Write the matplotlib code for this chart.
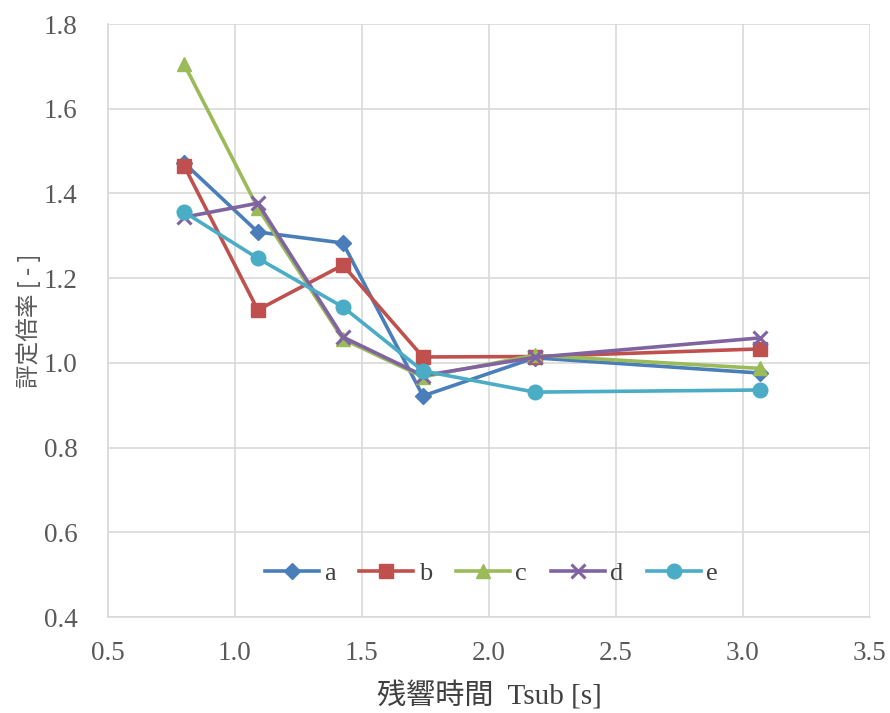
import matplotlib
matplotlib.use("Agg")
import matplotlib.pyplot as plt

x = [0.80, 1.09, 1.425, 1.74, 2.18, 3.067]

a = [1.472, 1.309, 1.283, 0.922, 1.012, 0.976]
b = [1.465, 1.125, 1.231, 1.014, 1.015, 1.033]
c = [1.705, 1.366, 1.056, 0.967, 1.018, 0.987]
d = [1.344, 1.377, 1.061, 0.970, 1.013, 1.059]
e = [1.356, 1.247, 1.132, 0.981, 0.931, 0.936]

names = ["a", "b", "c", "d", "e"]
series = [a, b, c, d, e]
colors = ["#4A7EBB", "#C0504D", "#9BBB59", "#8064A2", "#4BACC6"]
markers = ["D", "s", "^", "x", "o"]
msizes = [8, 10, 10, 10, 10.5]

xticks = [0.5, 1.0, 1.5, 2.0, 2.5, 3.0, 3.5]
yticks = [0.4, 0.6, 0.8, 1.0, 1.2, 1.4, 1.6, 1.8]

fig = plt.figure(figsize=(8.9, 7.13), dpi=100)
ax = fig.add_axes([0.1213, 0.1346, 0.8562, 0.8317])

for ys, nm, col, mk, ms in zip(series, names, colors, markers, msizes):
    ax.plot(x, ys, color=col, marker=mk, markersize=ms, linewidth=2.6,
            markeredgewidth=2.2 if mk == "x" else 1, label=nm, zorder=3)

ax.set_xlim(0.5, 3.5)
ax.set_ylim(0.4, 1.8)
ax.set_xticks(xticks)
ax.set_yticks(yticks)
ax.set_xticklabels([f"{t:.1f}" for t in xticks])
ax.set_yticklabels([f"{t:.1f}" for t in yticks])
ax.grid(True, color="#D9D9D9", linewidth=1.2)
ax.set_axisbelow(True)
for s in ["top", "right"]:
    ax.spines[s].set_visible(False)
for s in ["left", "bottom"]:
    ax.spines[s].set_color("#D9D9D9")
    ax.spines[s].set_linewidth(1.2)
ax.tick_params(length=0, labelsize=19.5, labelcolor="#595959")
ax.tick_params(axis="y", pad=22)
ax.tick_params(axis="x", pad=17)
for lbl in ax.get_xticklabels() + ax.get_yticklabels():
    lbl.set_family("Liberation Serif")

ax.set_ylabel("評定倍率 [ - ]", family=["Noto Sans CJK JP", "DejaVu Sans"],
              fontsize=17, color="#595959", labelpad=2)
ax.set_xlabel("残響時間  Tsub [s]", family=["Liberation Serif", "Noto Sans CJK JP"],
              fontsize=21, color="#404040", labelpad=11)

leg = ax.legend(loc="center", bbox_to_anchor=(0.503, 0.074), ncol=5, frameon=False,
                handlelength=2.05, columnspacing=0.9, handletextpad=0.2,
                prop={"family": "Liberation Serif", "size": 19})
for t in leg.get_texts():
    t.set_color("#404040")

fig.savefig("out.png", dpi=100)
